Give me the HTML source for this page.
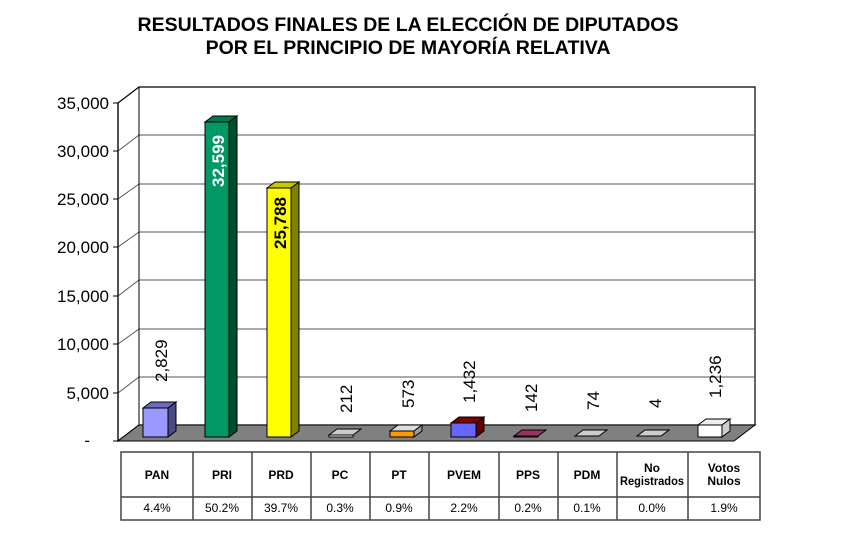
<!DOCTYPE html>
<html><head><meta charset="utf-8"><style>
body{margin:0;background:#fff;}
svg{display:block;font-family:"Liberation Sans",Arial,sans-serif;}
</style></head><body>
<svg width="846" height="556" viewBox="0 0 846 556" xmlns="http://www.w3.org/2000/svg">
<text x="408" y="31" text-anchor="middle" font-size="19.5" font-weight="bold">RESULTADOS FINALES DE LA ELECCIÓN DE DIPUTADOS</text>
<text x="408" y="54" text-anchor="middle" font-size="19.5" font-weight="bold">POR EL PRINCIPIO DE MAYORÍA RELATIVA</text>
<polygon points="118,103 139,87 755,87 755,425 139,425 118,441" fill="#fff" stroke="#000" stroke-width="1.2"/>
<g stroke="#555" stroke-width="1">
<line x1="139" y1="135" x2="755" y2="135"/><line x1="118" y1="151" x2="139" y2="135"/>
<line x1="139" y1="184" x2="755" y2="184"/><line x1="118" y1="199" x2="139" y2="184"/>
<line x1="139" y1="232" x2="755" y2="232"/><line x1="118" y1="247" x2="139" y2="232"/>
<line x1="139" y1="280" x2="755" y2="280"/><line x1="118" y1="296" x2="139" y2="280"/>
<line x1="139" y1="329" x2="755" y2="329"/><line x1="118" y1="344" x2="139" y2="329"/>
<line x1="139" y1="377" x2="755" y2="377"/><line x1="118" y1="393" x2="139" y2="377"/>
</g>
<line x1="139" y1="87" x2="139" y2="425" stroke="#000"/>
<line x1="118" y1="103" x2="118" y2="441" stroke="#000" stroke-width="1.2"/>
<polygon points="118,441 139,425 755,425 734,441" fill="#808080" stroke="#000"/>
<g stroke="#000"><line x1="113" y1="103" x2="118" y2="103"/><line x1="113" y1="151" x2="118" y2="151"/><line x1="113" y1="199" x2="118" y2="199"/><line x1="113" y1="247" x2="118" y2="247"/><line x1="113" y1="296" x2="118" y2="296"/><line x1="113" y1="344" x2="118" y2="344"/><line x1="113" y1="393" x2="118" y2="393"/><line x1="113" y1="441" x2="118" y2="441"/></g>
<g font-size="17" text-anchor="end">
<text x="109" y="109">35,000</text><text x="109" y="157">30,000</text><text x="109" y="205">25,000</text><text x="109" y="253">20,000</text><text x="109" y="302">15,000</text><text x="109" y="350">10,000</text><text x="109" y="399">5,000</text><text x="90" y="446">-</text>
</g>
<g stroke="#000" stroke-width="1">
<polygon points="143,408 151,402 176,402 168,408" fill="#6c6cc0"/><polygon points="168,408 176,402 176,431 168,437" fill="#4a4a85"/><rect x="143" y="408" width="25" height="29" fill="#9999ff"/>
<polygon points="205,122 213,116 237,116 229,122" fill="#007a4a"/><polygon points="229,122 237,116 237,431 229,437" fill="#004d2e"/><rect x="205" y="122" width="24" height="315" fill="#009966"/>
<polygon points="267,188 275,182 299,182 291,188" fill="#c8c800"/><polygon points="291,188 299,182 299,431 291,437" fill="#808000"/><rect x="267" y="188" width="24" height="249" fill="#ffff00"/>
<polygon points="329,435 337,429 361,429 353,435" fill="#ccc"/><rect x="329" y="435" width="24" height="2" fill="#fff"/>
<polygon points="390,431 398,425 422,425 414,431" fill="#ddd"/><polygon points="414,431 422,425 422,431 414,437" fill="#999"/><rect x="390" y="431" width="24" height="6" fill="#ff9900"/>
<polygon points="451,423 459,417 484,417 476,423" fill="#800000"/><polygon points="476,423 484,417 484,431 476,437" fill="#600000"/><rect x="451" y="423" width="25" height="14" fill="#6666ff"/>
<polygon points="514,436 522,430 546,430 538,436" fill="#993366"/><rect x="514" y="436" width="24" height="1" fill="#660033"/>
<polygon points="575,436 583,430 607,430 599,436" fill="#ccc"/>
<polygon points="637,436 645,430 669,430 661,436" fill="#ccc"/>
<polygon points="698,425 706,419 730,419 722,425" fill="#eee"/><polygon points="722,425 730,419 730,431 722,437" fill="#ccc"/><rect x="698" y="425" width="24" height="12" fill="#fff"/>
</g>
<g font-size="17" fill="#000">
<text transform="translate(167,382) rotate(-90)">2,829</text>
<text transform="translate(352,413) rotate(-90)">212</text>
<text transform="translate(414,408) rotate(-90)">573</text>
<text transform="translate(475,403) rotate(-90)">1,432</text>
<text transform="translate(537,412) rotate(-90)">142</text>
<text transform="translate(599,410) rotate(-90)">74</text>
<text transform="translate(661,408) rotate(-90)">4</text>
<text transform="translate(721,398) rotate(-90)">1,236</text>
</g>
<text transform="translate(224,187) rotate(-90)" font-size="17" font-weight="bold" fill="#fff">32,599</text>
<text transform="translate(286,249) rotate(-90)" font-size="17" font-weight="bold" fill="#000">25,788</text>
<g stroke="#444" stroke-width="1.5" fill="none">
<rect x="121" y="452" width="639" height="68"/>
<line x1="121" y1="497" x2="760" y2="497"/>
<line x1="193" y1="452" x2="193" y2="520"/><line x1="252" y1="452" x2="252" y2="520"/><line x1="311" y1="452" x2="311" y2="520"/><line x1="370" y1="452" x2="370" y2="520"/><line x1="429" y1="452" x2="429" y2="520"/><line x1="499" y1="452" x2="499" y2="520"/><line x1="558" y1="452" x2="558" y2="520"/><line x1="617" y1="452" x2="617" y2="520"/><line x1="688" y1="452" x2="688" y2="520"/>
</g>
<g font-size="12" font-weight="bold" text-anchor="middle">
<text x="157" y="479">PAN</text><text x="222" y="479">PRI</text><text x="281" y="479">PRD</text><text x="340" y="479">PC</text><text x="399" y="479">PT</text><text x="464" y="479">PVEM</text><text x="528" y="479">PPS</text><text x="587" y="479">PDM</text>
<text x="652" y="472">No</text><text x="652" y="485" textLength="64" lengthAdjust="spacingAndGlyphs">Registrados</text>
<text x="724" y="472">Votos</text><text x="724" y="485">Nulos</text>
</g>
<g font-size="12" text-anchor="middle">
<text x="157" y="512">4.4%</text><text x="222" y="512">50.2%</text><text x="281" y="512">39.7%</text><text x="340" y="512">0.3%</text><text x="399" y="512">0.9%</text><text x="464" y="512">2.2%</text><text x="528" y="512">0.2%</text><text x="587" y="512">0.1%</text><text x="652" y="512">0.0%</text><text x="724" y="512">1.9%</text>
</g>
</svg>
</body></html>
